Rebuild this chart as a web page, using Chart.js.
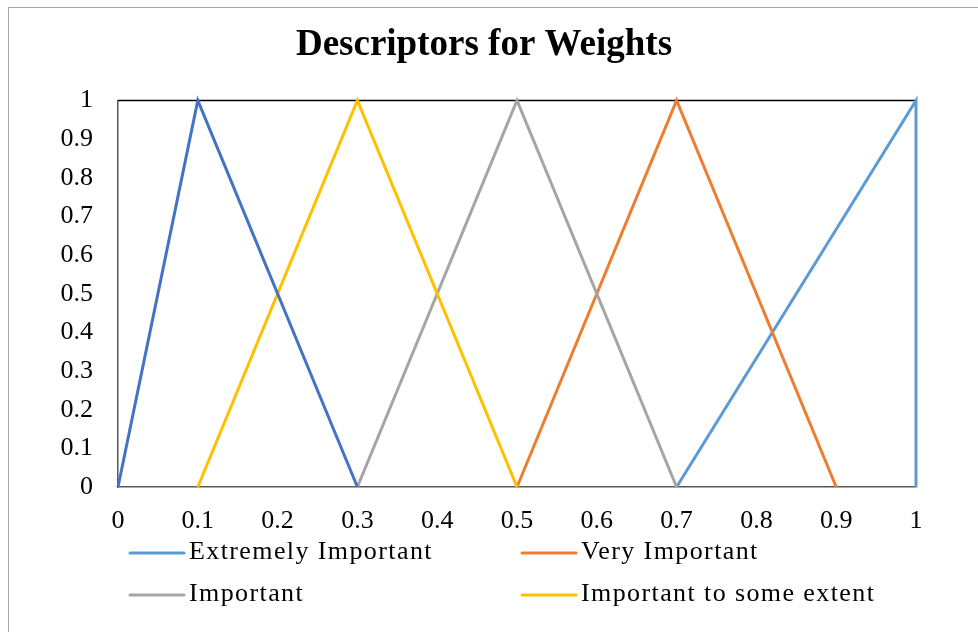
<!DOCTYPE html>
<html>
<head>
<meta charset="utf-8">
<title>Descriptors for Weights</title>
<script src="https://cdn.jsdelivr.net/npm/chart.js@4/dist/chart.umd.min.js"></script>
<style>
  html, body { margin: 0; padding: 0; background: #ffffff; }
  #wrap { position: relative; width: 978px; height: 632px; }
</style>
</head>
<body>
<div id="wrap"><canvas id="chart" width="978" height="632"></canvas></div>
<script>
// Triangular membership functions for each weight descriptor
const seriesLabels = ['Extremely Important', 'Very Important', 'Important', 'Important to some extent', 'Less Important'];
const extremelyImportantX = [0.7, 1, 1];
const extremelyImportantY = [0, 1, 0];
const veryImportantX = [0.5, 0.7, 0.9];
const veryImportantY = [0, 1, 0];
const importantX = [0.3, 0.5, 0.7];
const importantY = [0, 1, 0];
const someExtentX = [0.1, 0.3, 0.5];
const someExtentY = [0, 1, 0];
const lessImportantX = [0, 0.1, 0.3];
const lessImportantY = [0, 1, 0];

const xTickLabels = ['0', '0.1', '0.2', '0.3', '0.4', '0.5', '0.6', '0.7', '0.8', '0.9', '1'];
const yTickLabels = ['0', '0.1', '0.2', '0.3', '0.4', '0.5', '0.6', '0.7', '0.8', '0.9', '1'];

const seriesX = [extremelyImportantX, veryImportantX, importantX, someExtentX, lessImportantX];
const seriesY = [extremelyImportantY, veryImportantY, importantY, someExtentY, lessImportantY];
const seriesColors = ['#5B9BD5', '#ED7D31', '#A5A5A5', '#FFC000', '#4472C4'];
const legendCount = 4;

const SERIF = '"Liberation Serif", "Times New Roman", serif';

const datasets = seriesLabels.map((label, i) => ({
  label: label,
  data: seriesX[i].map((x, j) => ({ x: x, y: seriesY[i][j] })),
  borderColor: seriesColors[i],
  backgroundColor: seriesColors[i],
  borderWidth: 3,
  showLine: true,
  pointRadius: 0,
  pointHoverRadius: 0,
  tension: 0,
  clip: false,
  // later series are painted over earlier ones
  order: seriesLabels.length - i
}));

// Frame around the whole figure, plus the dark top edge of the plot area
const framePlugin = {
  id: 'frame',
  beforeDraw(chart) {
    const ctx = chart.ctx;
    ctx.save();
    ctx.fillStyle = '#ffffff';
    ctx.fillRect(0, 0, chart.width, chart.height);
    ctx.strokeStyle = '#A6A6A6';
    ctx.lineWidth = 1;
    ctx.strokeRect(8.5, 7.5, chart.width + 20, chart.height + 20);
    ctx.restore();
  },
  beforeDatasetsDraw(chart) {
    const a = chart.chartArea;
    const ctx = chart.ctx;
    ctx.save();
    ctx.strokeStyle = '#000000';
    ctx.lineWidth = 1.5;
    ctx.beginPath();
    ctx.moveTo(a.left, a.top);
    ctx.lineTo(a.right, a.top);
    ctx.stroke();
    ctx.restore();
  }
};

// Two-column legend under the axis
const legendPlugin = {
  id: 'gridLegend',
  afterDraw(chart) {
    const ctx = chart.ctx;
    const colX = [130, 522];
    const rowY = [553, 595];
    ctx.save();
    ctx.font = '26px ' + SERIF;
    ctx.textBaseline = 'middle';
    ctx.textAlign = 'left';
    if ('letterSpacing' in ctx) ctx.letterSpacing = '1.4px';
    for (let i = 0; i < legendCount; i++) {
      const ds = chart.data.datasets[i];
      const x = colX[i % 2];
      const y = rowY[Math.floor(i / 2)];
      ctx.strokeStyle = ds.borderColor;
      ctx.lineWidth = 3;
      ctx.lineCap = 'round';
      ctx.beginPath();
      ctx.moveTo(x, y);
      ctx.lineTo(x + 54, y);
      ctx.stroke();
      ctx.fillStyle = '#000000';
      ctx.fillText(ds.label, x + 59, y - 1);
    }
    ctx.restore();
  }
};

new Chart(document.getElementById('chart'), {
  type: 'scatter',
  data: { datasets: datasets },
  options: {
    responsive: false,
    animation: false,
    devicePixelRatio: 1,
    layout: { padding: { left: 0, right: 10, top: 0, bottom: 0 } },
    plugins: {
      legend: { display: false },
      tooltip: { enabled: false },
      title: {
        display: true,
        text: 'Descriptors for Weights',
        color: '#000000',
        font: { family: SERIF, size: 37, weight: 'bold', lineHeight: 1.2 },
        padding: { top: 23, bottom: 33 }
      }
    },
    scales: {
      x: {
        type: 'linear',
        min: 0,
        max: 1,
        grid: { display: false, drawTicks: false },
        border: { display: true, color: '#595959', width: 1.5 },
        ticks: {
          stepSize: 0.1,
          padding: 19,
          color: '#000000',
          maxRotation: 0,
          autoSkip: false,
          font: { family: SERIF, size: 26 },
          callback: (v) => xTickLabels[Math.round(v * 10)]
        },
        afterFit(scale) { scale.height = 145; }
      },
      y: {
        type: 'linear',
        min: 0,
        max: 1,
        grid: { display: false, drawTicks: false },
        border: { display: true, color: '#595959', width: 1.5 },
        ticks: {
          stepSize: 0.1,
          padding: 25,
          color: '#000000',
          autoSkip: false,
          font: { family: SERIF, size: 26 },
          callback: (v) => yTickLabels[Math.round(v * 10)]
        },
        afterFit(scale) { scale.width = 118; }
      },
      // blank margin on the right of the plot area
      yRight: {
        type: 'linear',
        position: 'right',
        min: 0,
        max: 1,
        grid: { display: false, drawTicks: false },
        border: { display: false },
        ticks: { display: false },
        afterFit(scale) { scale.width = 52; }
      }
    }
  },
  plugins: [framePlugin, legendPlugin]
});
</script>
</body>
</html>
